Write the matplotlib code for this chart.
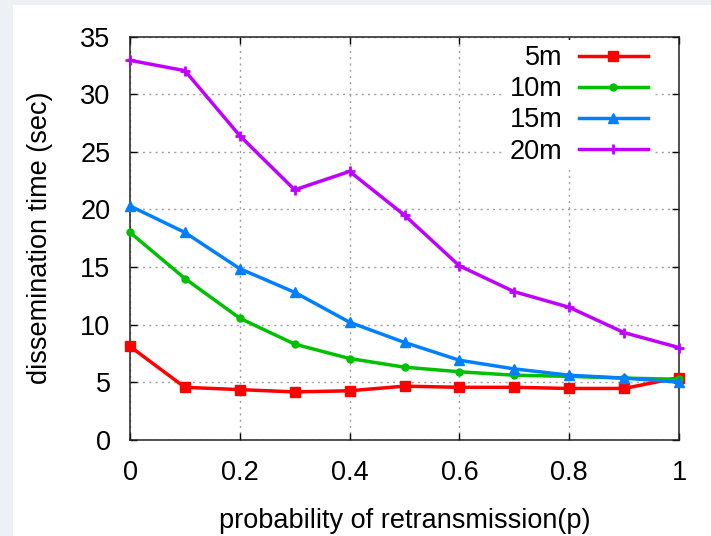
import matplotlib
matplotlib.use("Agg")
import matplotlib.pyplot as plt
from matplotlib.patches import Rectangle

plt.rcParams['font.family'] = ['Liberation Sans', 'DejaVu Sans']

p = [0.0, 0.1, 0.2, 0.3, 0.4, 0.5, 0.6, 0.7, 0.8, 0.9, 1.0]
t_5m = [8.1, 4.55, 4.35, 4.15, 4.25, 4.65, 4.55, 4.55, 4.45, 4.45, 5.4]
t_10m = [18.0, 14.0, 10.55, 8.3, 7.05, 6.3, 5.9, 5.6, 5.5, 5.35, 5.25]
t_15m = [20.3, 18.0, 14.85, 12.8, 10.2, 8.45, 6.9, 6.15, 5.6, 5.35, 5.0]
t_20m = [32.95, 32.05, 26.4, 21.7, 23.3, 19.5, 15.1, 12.85, 11.5, 9.3, 8.0]

labels = ['5m', '10m', '15m', '20m']
colors = ['#ff0000', '#00c000', '#0080ff', '#c000ff']
markers = ['s', 'o', '^', '+']
msizes = [6.5, 5, 7.5, 7.5]
xticks = [0, 0.2, 0.4, 0.6, 0.8, 1]
xticklabels = ['0', '0.2', '0.4', '0.6', '0.8', '1']
yticks = [0, 5, 10, 15, 20, 25, 30, 35]

FS = 19.5

fig = plt.figure(figsize=(7.11, 5.36), dpi=100)
fig.patch.set_facecolor('#edf1f5')
fig.patches.append(Rectangle((13/711, 0), 1, 531/536, transform=fig.transFigure,
                             facecolor='white', edgecolor='none', zorder=-10))
ax = fig.add_axes([130/711, 1-439.7/536, 549/711, 403/536])

for ys, lab, c, m, ms in zip([t_5m, t_10m, t_15m, t_20m], labels, colors, markers, msizes):
    ax.plot(p, ys, color=c, lw=2.5, marker=m, ms=ms, mew=2 if m == '+' else 1,
            label=lab, clip_on=False, zorder=3)

ax.set_xlim(0, 1)
ax.set_ylim(0, 35)
ax.set_xticks(xticks)
ax.set_xticklabels(xticklabels)
ax.set_yticks(yticks)
ax.tick_params(direction='in', length=5, width=1, top=True, right=True,
               labelsize=FS, pad=14, colors='black')
ax.tick_params(axis='x', pad=14.5)
for s in ax.spines.values():
    s.set_linewidth(1.1)
    s.set_color('#202020')
ax.grid(True, color='#a0a0a0', lw=1, linestyle=(0, (1.5, 3)))
ax.set_axisbelow(True)

ax.set_xlabel('probability of retransmission(p)', fontsize=FS, labelpad=16)
ax.set_ylabel('dissemination time (sec)', fontsize=FS, labelpad=20)

leg = ax.legend(loc='upper right', bbox_to_anchor=(1 - 26/549, 1 - 3/403),
                bbox_transform=ax.transAxes, markerfirst=False, fontsize=FS,
                frameon=True, framealpha=1, edgecolor='none', facecolor='white',
                handlelength=2.55, handletextpad=0.6, labelspacing=0.19,
                borderpad=0.2, borderaxespad=0, fancybox=False)
leg.set_zorder(2)

fig.savefig('out.png', dpi=100)
